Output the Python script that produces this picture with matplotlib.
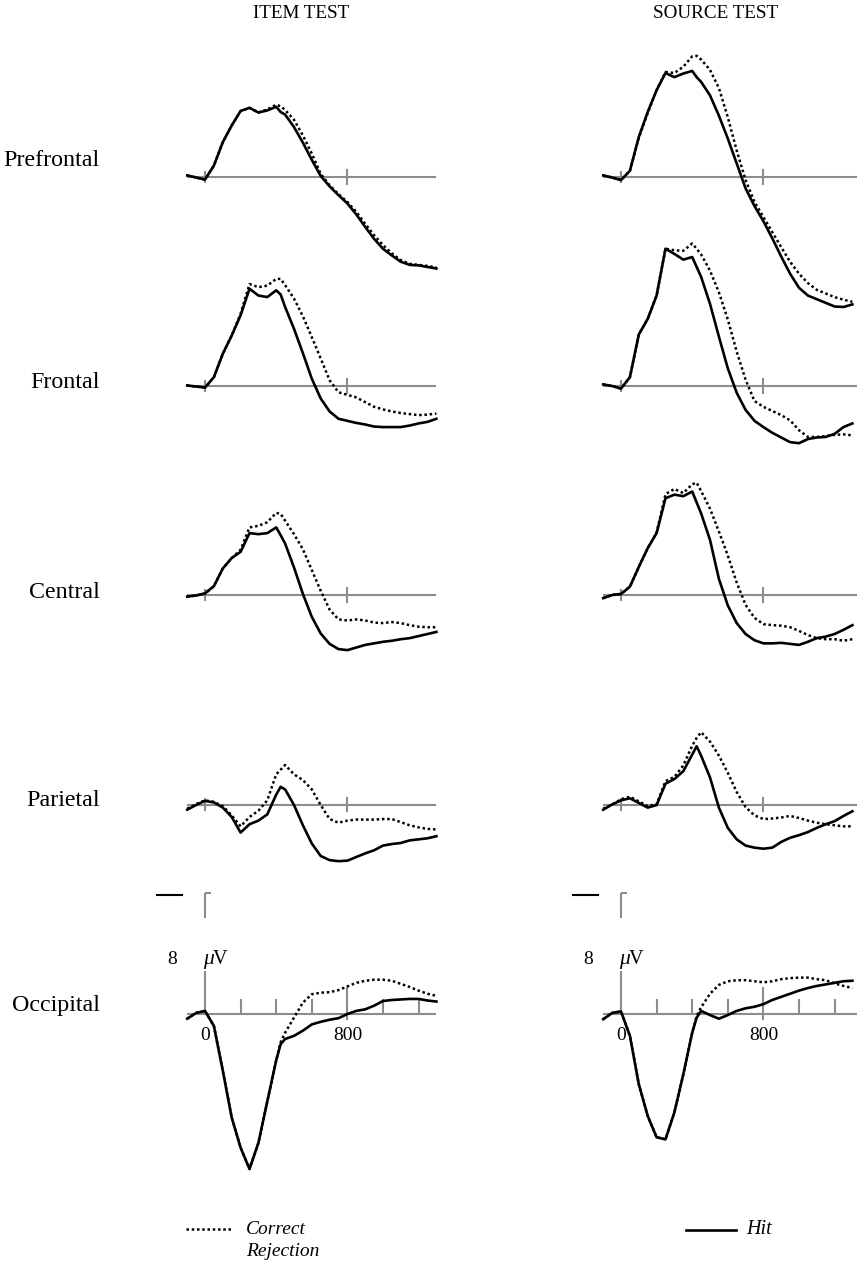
import matplotlib
matplotlib.use('Agg')
import matplotlib.pyplot as plt
from matplotlib.lines import Line2D

# time points (ms) shared by every waveform
times = [-100, -50, 0, 50, 100, 150, 200, 250, 300, 350, 400, 425, 450, 500, 550,
         600, 650, 700, 750, 800, 850, 900, 950, 1000, 1050, 1100, 1150, 1200, 1250, 1300]

# ITEM TEST (microvolts)
item_prefrontal_hit = [0.3, -0.1, -0.5, 2.2, 6.7, 9.9, 12.7, 13.3, 12.4, 12.8, 13.5, 12.5, 12.0, 9.6, 6.6,
                       3.3, 0.2, -1.8, -3.5, -5.1, -7.2, -9.6, -11.9, -13.8, -15.1, -16.3, -16.9, -17.0, -17.3, -17.6]
item_prefrontal_cr = [0.3, -0.1, -0.5, 2.2, 6.7, 9.9, 12.7, 13.3, 12.4, 13.0, 13.9, 13.6, 12.9, 11.0, 8.0,
                      4.5, 0.6, -1.6, -3.3, -4.8, -6.7, -9.0, -11.2, -13.1, -14.7, -16.0, -16.7, -16.9, -17.1, -17.4]
item_frontal_hit = [0.1, -0.1, -0.3, 1.7, 6.2, 9.7, 13.6, 18.7, 17.4, 17.1, 18.4, 17.6, 15.2, 11.0, 6.3,
                    1.4, -2.4, -4.9, -6.3, -6.7, -7.1, -7.4, -7.8, -7.9, -7.9, -7.9, -7.6, -7.2, -6.9, -6.3]
item_frontal_cr = [0.1, -0.1, -0.3, 1.7, 6.2, 9.7, 13.9, 19.6, 19.0, 19.3, 20.6, 20.6, 19.4, 16.8, 13.4,
                   9.4, 5.3, 1.1, -1.2, -1.7, -2.2, -3.1, -4.0, -4.5, -4.9, -5.2, -5.4, -5.6, -5.5, -5.3]
item_central_hit = [-0.3, -0.1, 0.3, 1.7, 5.1, 7.1, 8.3, 11.9, 11.7, 11.9, 13.0, 11.5, 9.9, 5.3, 0.2,
                    -4.2, -7.4, -9.4, -10.4, -10.6, -10.1, -9.6, -9.3, -9.0, -8.8, -8.5, -8.3, -7.9, -7.5, -7.1]
item_central_cr = [-0.3, -0.1, 0.3, 1.7, 5.1, 7.1, 8.7, 13.0, 13.3, 14.0, 15.8, 15.6, 14.3, 11.7, 8.8,
                   4.8, 0.8, -2.8, -4.7, -4.9, -4.7, -4.9, -5.3, -5.4, -5.2, -5.4, -5.8, -6.1, -6.2, -6.2]
item_parietal_hit = [-1.0, -0.1, 0.7, 0.4, -0.6, -2.4, -5.4, -3.8, -3.1, -1.9, 1.9, 3.4, 2.9, -0.1, -4.0,
                     -7.5, -9.9, -10.7, -10.9, -10.8, -10.1, -9.4, -8.8, -7.9, -7.6, -7.4, -6.9, -6.7, -6.5, -6.1]
item_parietal_cr = [-0.8, 0.1, 0.8, 0.5, -0.3, -2.1, -4.2, -2.4, -1.2, 0.8, 5.8, 6.7, 7.6, 5.8, 4.7,
                    2.9, -0.1, -2.8, -3.5, -3.1, -2.9, -2.9, -2.9, -2.8, -2.8, -3.4, -4.0, -4.4, -4.7, -4.8]
item_occipital_hit = [-1.0, 0.1, 0.5, -2.4, -11.0, -20.0, -25.8, -29.9, -24.9, -16.9, -9.0, -5.9, -4.9, -4.3, -3.3,
                      -2.1, -1.6, -1.2, -0.9, -0.1, 0.5, 0.8, 1.5, 2.4, 2.6, 2.7, 2.8, 2.8, 2.5, 2.3]
item_occipital_cr = [-1.0, 0.1, 0.5, -2.4, -11.0, -20.0, -25.8, -29.9, -24.9, -16.9, -9.0, -5.5, -3.7, -0.8, 2.1,
                     3.7, 4.0, 4.1, 4.5, 5.2, 5.9, 6.3, 6.5, 6.5, 6.3, 5.7, 5.1, 4.4, 3.8, 3.4]

# SOURCE TEST (microvolts)
source_prefrontal_hit = [0.3, -0.1, -0.6, 1.2, 7.7, 12.5, 16.7, 20.0, 19.2, 19.9, 20.4, 19.2, 18.3, 15.7, 11.8,
                         7.4, 2.6, -2.2, -5.6, -8.5, -11.8, -15.3, -18.6, -21.3, -22.8, -23.5, -24.2, -24.9, -25.0, -24.5]
source_prefrontal_cr = [0.3, -0.1, -0.6, 1.2, 7.5, 12.3, 16.7, 20.2, 20.0, 21.2, 23.2, 23.3, 22.6, 20.6, 17.1,
                        11.5, 5.1, -0.6, -4.8, -7.7, -10.6, -13.5, -16.3, -18.6, -20.4, -21.7, -22.4, -23.1, -23.6, -24.0]
source_frontal_hit = [0.3, 0.0, -0.5, 1.7, 9.9, 12.9, 17.4, 26.4, 25.4, 24.3, 24.8, 22.9, 21.0, 15.8, 9.5,
                      3.4, -1.3, -4.6, -6.7, -7.9, -9.0, -9.9, -10.8, -11.0, -10.2, -9.9, -9.8, -9.2, -7.9, -7.2]
source_frontal_cr = [0.3, 0.0, -0.5, 1.7, 9.9, 12.9, 17.4, 26.4, 26.1, 26.0, 27.4, 26.4, 25.3, 22.2, 18.0,
                     12.8, 6.6, 1.2, -2.9, -4.0, -4.8, -5.6, -6.6, -8.5, -9.8, -9.8, -9.6, -9.4, -9.3, -9.5]
source_central_hit = [-0.6, 0.0, 0.2, 1.6, 5.4, 9.0, 11.9, 18.6, 19.3, 19.0, 19.9, 17.8, 15.7, 10.6, 3.1,
                      -2.0, -5.4, -7.5, -8.7, -9.3, -9.3, -9.2, -9.4, -9.6, -9.0, -8.3, -8.0, -7.5, -6.7, -5.8]
source_central_cr = [-0.6, 0.0, 0.2, 1.6, 5.4, 9.0, 12.0, 19.4, 20.4, 19.6, 21.3, 21.6, 20.0, 16.6, 12.2,
                     7.6, 2.4, -1.9, -4.4, -5.6, -5.8, -5.9, -6.2, -6.9, -7.7, -8.3, -8.5, -8.5, -8.8, -8.5]
source_parietal_hit = [-1.0, 0.0, 0.8, 1.2, 0.3, -0.6, -0.1, 4.0, 4.9, 6.4, 9.6, 11.2, 9.4, 5.2, -0.6,
                       -4.5, -6.7, -7.9, -8.3, -8.5, -8.3, -7.2, -6.4, -5.9, -5.3, -4.5, -3.8, -3.2, -2.2, -1.3]
source_parietal_cr = [-0.8, 0.0, 1.0, 1.5, 0.6, -0.3, 0.0, 4.5, 5.3, 7.5, 11.3, 12.8, 13.9, 12.1, 9.4,
                      6.1, 2.4, -0.5, -2.1, -2.8, -2.7, -2.5, -2.2, -2.6, -3.1, -3.5, -3.8, -4.0, -4.2, -4.2]
source_occipital_hit = [-1.1, 0.1, 0.4, -4.3, -13.6, -19.7, -23.8, -24.2, -19.0, -11.7, -3.7, -0.8, 0.5, -0.3, -1.0,
                        -0.3, 0.5, 1.0, 1.3, 1.8, 2.6, 3.2, 3.8, 4.4, 4.9, 5.3, 5.6, 5.9, 6.2, 6.3]
source_occipital_cr = [-1.1, 0.1, 0.4, -4.3, -13.6, -19.7, -23.8, -24.2, -19.0, -11.7, -3.7, -0.5, 1.2, 3.8, 5.5,
                       6.2, 6.4, 6.4, 6.2, 6.0, 6.2, 6.6, 6.8, 6.9, 6.9, 6.6, 6.4, 5.8, 5.3, 4.9]

sites = ['Prefrontal', 'Frontal', 'Central', 'Parietal', 'Occipital']
item_hit = [item_prefrontal_hit, item_frontal_hit, item_central_hit, item_parietal_hit, item_occipital_hit]
item_cr = [item_prefrontal_cr, item_frontal_cr, item_central_cr, item_parietal_cr, item_occipital_cr]
source_hit = [source_prefrontal_hit, source_frontal_hit, source_central_hit, source_parietal_hit, source_occipital_hit]
source_cr = [source_prefrontal_cr, source_frontal_cr, source_central_cr, source_parietal_cr, source_occipital_cr]

# layout in pixels
W, H = 857, 1264
PX_MS = 0.178      # pixels per ms
PX_UV = 5.2        # pixels per microvolt
col_zero = [205, 621]
row_base = [177, 386, 595, 804.5, 1013.5]
label_y = [160, 383, 592, 800, 1005]

GRAY = '#8c8c8c'
SERIF = ['Liberation Serif', 'DejaVu Serif']
DOTS = (0, (1, 1.1))

fig = plt.figure(figsize=(W / 100, H / 100), dpi=100)


def make_ax(x0, yb, tlim=(-320, 1400), vlim=(-35, 32)):
    left = x0 + tlim[0] * PX_MS
    width = (tlim[1] - tlim[0]) * PX_MS
    top = yb - vlim[1] * PX_UV
    height = (vlim[1] - vlim[0]) * PX_UV
    ax = fig.add_axes([left / W, 1 - (top + height) / H, width / W, height / H])
    ax.set_xlim(tlim)
    ax.set_ylim(vlim)
    ax.set_facecolor('none')
    ax.axis('off')
    return ax


for col, (hits, crs) in enumerate([(item_hit, item_cr), (source_hit, source_cr)]):
    t_end = 1300 if col == 0 else 1340
    for row in range(5):
        ax = make_ax(col_zero[col], row_base[row])
        ax.plot([-100, t_end], [0, 0], color=GRAY, lw=1.5, solid_capstyle='butt', zorder=1)
        if row < 4:
            ax.plot([0, 0], [-1.0, 1.0], color=GRAY, lw=1.5, zorder=1)
            ax.plot([800, 800], [-1.3, 1.3], color=GRAY, lw=1.5, zorder=1)
        else:
            for t in [200, 400, 600, 1000, 1200]:
                ax.plot([t, t], [0, 2.6], color=GRAY, lw=1.5, zorder=1)
            ax.plot([800, 800], [-1.0, 4.9], color=GRAY, lw=1.5, zorder=1)
            ax.plot([0, 0], [0, 8], color=GRAY, lw=1.5, zorder=1)
            # scale marks
            ax.plot([-270, -130], [22.8, 22.8], color='black', lw=1.5)
            ax.plot([0, 0], [18.4, 23.1], color=GRAY, lw=1.5, solid_capstyle='butt')
            ax.plot([0, 35], [23.1, 23.1], color=GRAY, lw=1.5, solid_capstyle='butt')
            ax.text(-185, 10.3, '8', family=SERIF, fontsize=14, ha='center', va='center')
            ax.text(-12, 10.3, 'μ', family=SERIF, fontsize=15.5, style='italic', ha='left', va='center')
            ax.text(42, 10.3, 'V', family=SERIF, fontsize=14.5, ha='left', va='center')
            ax.text(0, -4.2, '0', family=SERIF, fontsize=14, ha='center', va='center')
            ax.text(800, -4.2, '800', family=SERIF, fontsize=14, ha='center', va='center')
        ax.plot(times, crs[row], color='black', lw=1.8, linestyle=DOTS, zorder=3)
        ax.plot(times, hits[row], color='black', lw=1.9, zorder=4)

# row labels and column titles
for name, y in zip(sites, label_y):
    fig.text(100 / W, 1 - y / H, name, family=SERIF, fontsize=17.3, ha='right', va='center')
fig.text(301 / W, 1 - 13 / H, 'ITEM TEST', family=SERIF, fontsize=13.8, ha='center', va='center')
fig.text(716 / W, 1 - 13 / H, 'SOURCE TEST', family=SERIF, fontsize=13.8, ha='center', va='center')

# legend
fig.add_artist(Line2D([186 / W, 232 / W], [1 - 1229 / H, 1 - 1229 / H], color='black', lw=1.8, linestyle=DOTS))
fig.text(246 / W, 1 - 1229 / H, 'Correct', family=SERIF, fontsize=14, style='italic', ha='left', va='center')
fig.text(246 / W, 1 - 1252 / H, 'Rejection', family=SERIF, fontsize=14, style='italic', ha='left', va='center')
fig.add_artist(Line2D([686 / W, 736 / W], [1 - 1230 / H, 1 - 1230 / H], color='black', lw=1.9))
fig.text(746 / W, 1 - 1230 / H, 'Hit', family=SERIF, fontsize=14.5, style='italic', ha='left', va='center')

fig.savefig('out.png', dpi=100, facecolor='white')
